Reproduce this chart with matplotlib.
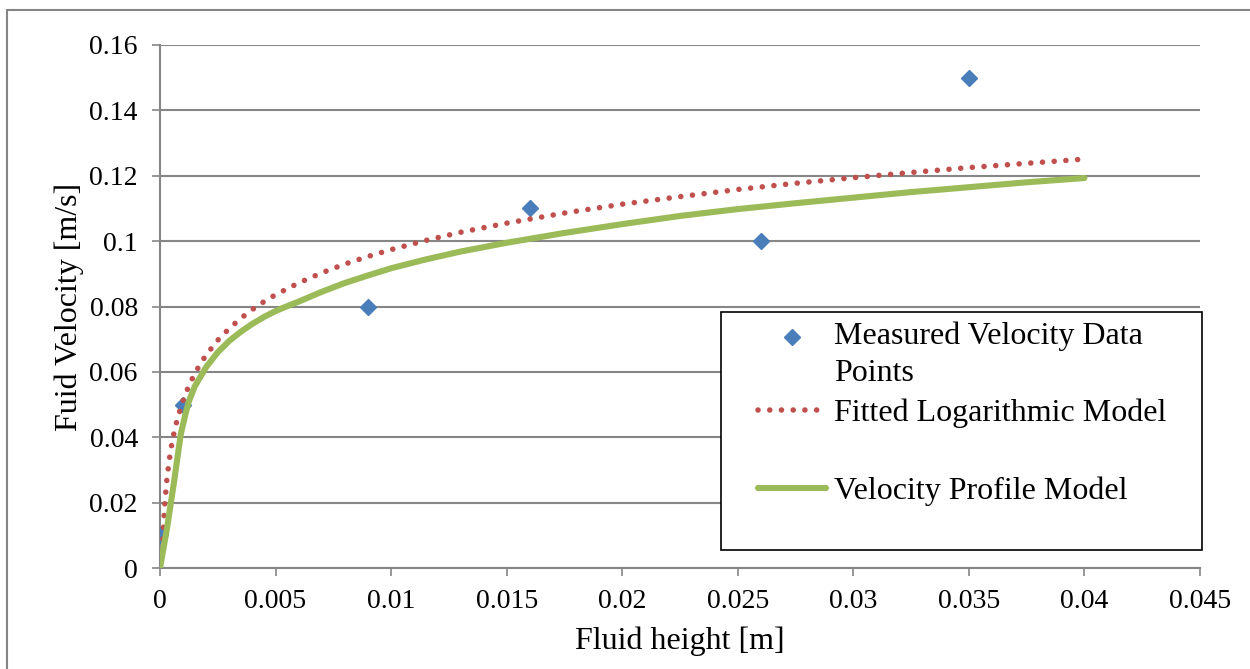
import matplotlib
matplotlib.use("Agg")
import numpy as np
import matplotlib.pyplot as plt
from matplotlib.lines import Line2D
from matplotlib.legend_handler import HandlerLine2D
from matplotlib.patches import Rectangle
from matplotlib.ticker import FuncFormatter, MultipleLocator

# ---- data ----
meas_x = [0.0, 0.001, 0.009, 0.016, 0.026, 0.035]
meas_y = [0.01, 0.05, 0.08, 0.11, 0.10, 0.15]

fit_x = [0.0001, 0.0002, 0.0003, 0.0004, 0.0005, 0.0006, 0.00075, 0.001, 0.00125,
         0.0015, 0.00175, 0.002, 0.0025, 0.003, 0.0035, 0.004, 0.0045, 0.005,
         0.006, 0.007, 0.008, 0.009, 0.01, 0.0115, 0.013, 0.015, 0.0175, 0.02,
         0.0225, 0.025, 0.0275, 0.03, 0.0325, 0.035, 0.0375, 0.04]
fit_y = [0.0053, 0.0192, 0.0273, 0.0330, 0.0375, 0.0411, 0.0456, 0.0513, 0.0558,
         0.0594, 0.0625, 0.0652, 0.0697, 0.0733, 0.0764, 0.0791, 0.0815, 0.0836,
         0.0872, 0.0903, 0.0930, 0.0953, 0.0974, 0.1002, 0.1027, 0.1055, 0.1086,
         0.1113, 0.1136, 0.1158, 0.1177, 0.1194, 0.1210, 0.1225, 0.1238, 0.1251]

prof_x = [0.0, 0.0003, 0.0006, 0.0009, 0.0011, 0.00125, 0.0015, 0.00175, 0.002,
          0.0025, 0.003, 0.0035, 0.004, 0.0045, 0.005, 0.0055, 0.006, 0.007,
          0.008, 0.009, 0.01, 0.0115, 0.013, 0.015, 0.0175, 0.02, 0.0225, 0.025,
          0.0275, 0.03, 0.0325, 0.035, 0.0375, 0.04]
prof_y = [0.0, 0.012, 0.026, 0.041, 0.047, 0.051, 0.0555, 0.0585, 0.0615,
          0.0660, 0.0695, 0.0723, 0.0747, 0.0768, 0.0786, 0.0801, 0.0815, 0.0845,
          0.0872, 0.0895, 0.0917, 0.0944, 0.0968, 0.0995, 0.1025, 0.1052, 0.1077,
          0.1098, 0.1116, 0.1133, 0.1150, 0.1165, 0.1180, 0.1193]

labels = ["Measured Velocity Data\nPoints", "Fitted Logarithmic Model",
          "Velocity Profile Model"]

BLUE = "#4A7EBB"
RED = "#C0504D"
GREEN = "#9BBB59"
GRID = "#868686"

plt.rcParams["font.family"] = ["Liberation Serif", "DejaVu Serif"]
FS = 20     # tick labels
TFS = 23    # axis titles
LFS = 23    # legend


class ShiftedLine(HandlerLine2D):
    """Line handler whose glyph is raised by dy (in font-size units)."""

    def __init__(self, dy=0.0, **kw):
        super().__init__(**kw)
        self._dy = dy

    def create_artists(self, legend, orig_handle, xdescent, ydescent, width,
                       height, fontsize, trans):
        arts = super().create_artists(legend, orig_handle, xdescent, ydescent,
                                      width, height, fontsize, trans)
        for a in arts:
            a.set_ydata(np.asarray(a.get_ydata(), float) + self._dy * fontsize)
        return arts


fig = plt.figure(figsize=(12.5, 6.69), dpi=100)
ax = fig.add_axes([160 / 1250, 101 / 669, 1040 / 1250, 523 / 669])

h_meas, = ax.plot(meas_x, meas_y, ls="none", marker="D", ms=8.5, color=BLUE,
                  mec=BLUE, zorder=3)
h_fit, = ax.plot(fit_x, fit_y, color=RED, lw=4.0, ls=(0, (0.01, 2.1)),
                 dash_capstyle="round", zorder=4)
h_prof, = ax.plot(prof_x, prof_y, color=GREEN, lw=4.4, solid_capstyle="round",
                  solid_joinstyle="round", zorder=5)

ax.set_xlim(0, 0.045)
ax.set_ylim(0, 0.16)
ax.xaxis.set_major_locator(MultipleLocator(0.005))
ax.yaxis.set_major_locator(MultipleLocator(0.02))
fmt = FuncFormatter(lambda v, p: "%g" % round(v, 6))
ax.xaxis.set_major_formatter(fmt)
ax.yaxis.set_major_formatter(fmt)

ax.grid(axis="y", color=GRID, lw=1.5)
ax.set_axisbelow(True)
for s in ["top", "right"]:
    ax.spines[s].set_visible(False)
for s in ["left", "bottom"]:
    ax.spines[s].set_color(GRID)
    ax.spines[s].set_linewidth(1.5)
ax.tick_params(axis="x", direction="out", length=6, width=1.2, color=GRID,
               labelsize=FS, pad=9, labelcolor="black")
ax.tick_params(axis="y", direction="out", length=6, width=1.2, color=GRID,
               labelsize=FS, pad=10, labelcolor="black")

ax.set_xlabel("Fluid height [m]", fontsize=TFS, labelpad=9)
ax.set_ylabel("Fuid Velocity [m/s]", fontsize=TFS, labelpad=4)

spacer = Line2D([], [], ls="none")
XPAD = 0.86
leg = ax.legend([h_meas, h_fit, spacer, h_prof, spacer],
                [labels[0], labels[1], " ", labels[2], " "],
                loc="upper left",
                bbox_to_anchor=(561 / 1040, 0, 481 / 1040, 256 / 523),
                mode="expand",
                borderaxespad=0, fontsize=LFS, frameon=True, fancybox=False,
                edgecolor="black", framealpha=1, borderpad=0.3,
                handlelength=3.0, handletextpad=0.25, labelspacing=0.32,
                handler_map={h_meas: ShiftedLine(dy=0.55, xpad=XPAD),
                             Line2D: HandlerLine2D(xpad=XPAD)})
leg.get_frame().set_linewidth(1.2)
texts = leg.get_texts()
for t in texts:
    t.set_linespacing(1.37)
texts[2].set_fontsize(21)
texts[4].set_fontsize(7)

# outer chart-area border (Excel style)
fig.patches.append(Rectangle((7 / 1250, -0.05), 1.2, 0.05 + (669 - 10) / 669,
                             transform=fig.transFigure, fill=False,
                             edgecolor=GRID, lw=1.5, clip_on=False))

fig.savefig("out.png", dpi=100)
